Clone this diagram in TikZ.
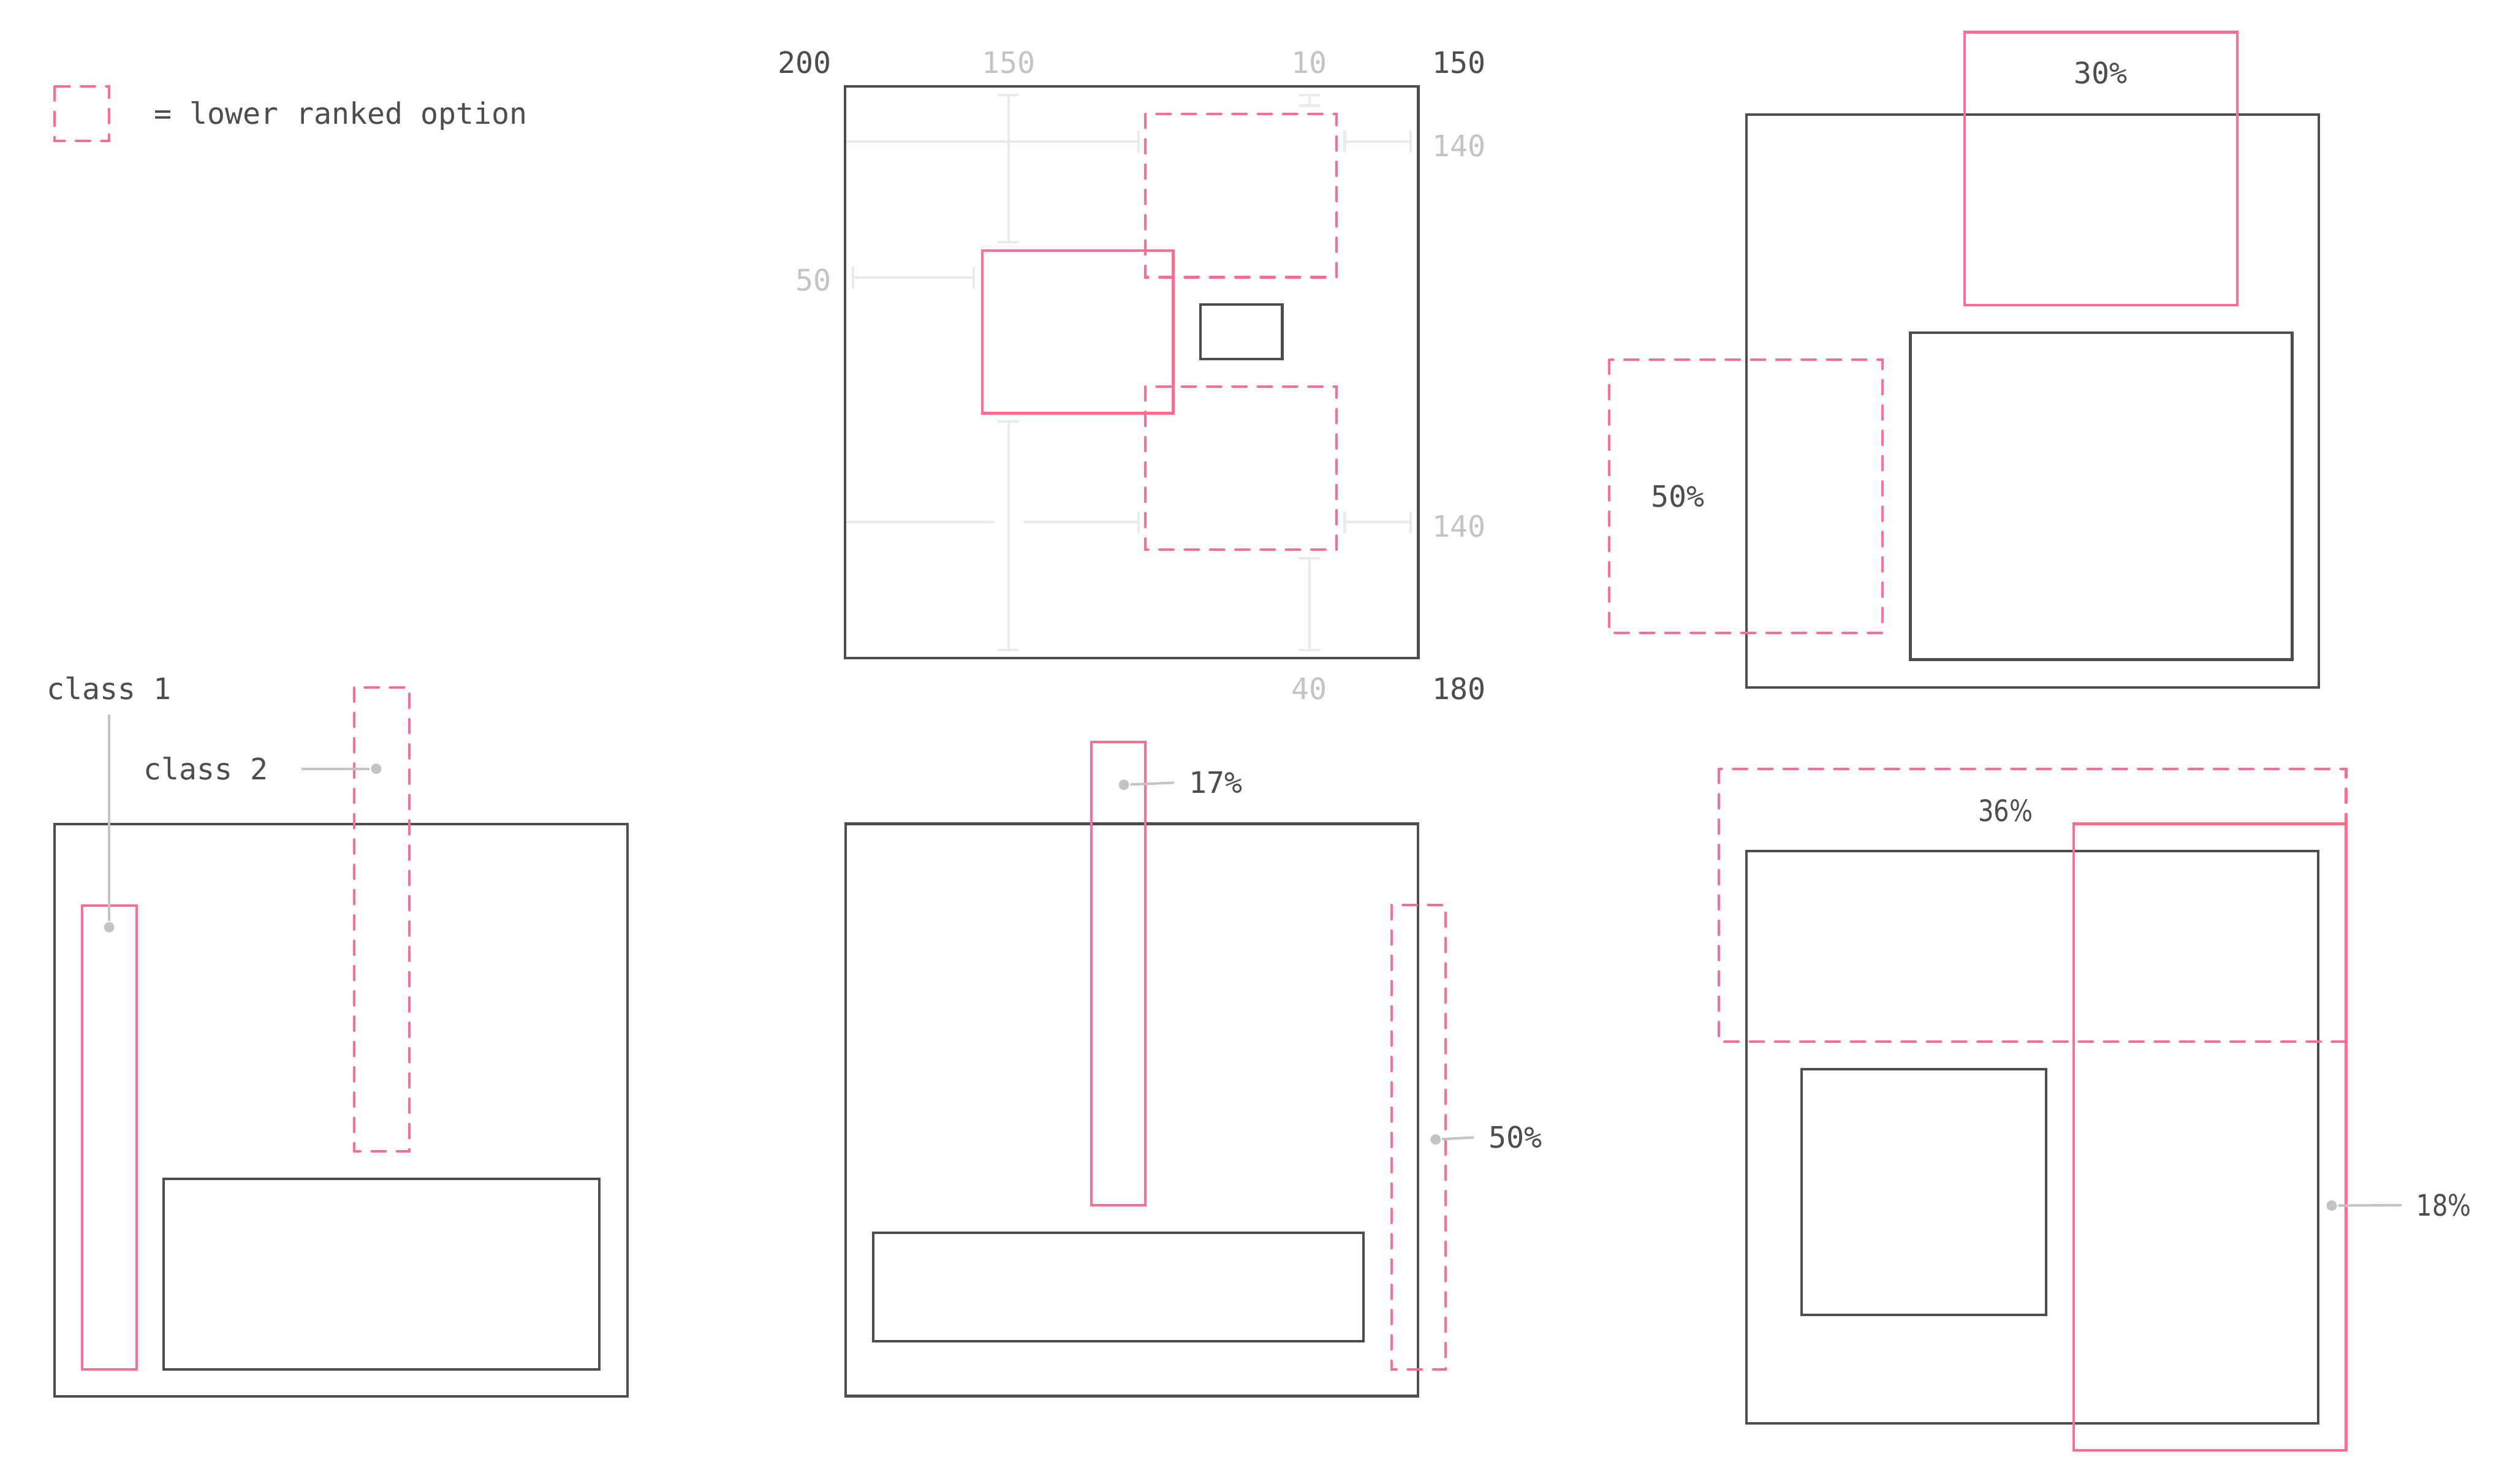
\documentclass[tikz,border=0pt]{standalone}
\usepackage{fontspec}
\setmonofont{DejaVu Sans Mono}
\newfontfamily\pctfont[FakeStretch=0.83]{DejaVu Sans}
\usetikzlibrary{arrows.meta}
\definecolor{cdark}{HTML}{4D4D4D}
\definecolor{cpink}{HTML}{FF6E91}
\definecolor{cgrey}{HTML}{C4C4C4}
\definecolor{clight}{HTML}{EBEBEB}
\tikzset{
  every picture/.style={font=\ttfamily\fontsize{10.5pt}{12pt}\selectfont, line width=0.9pt, x=0.02cm, y=-0.02cm},
  truth/.style={draw=cdark},
  pick/.style={draw=cpink},
  alt/.style={draw=cpink, dash pattern=on 5pt off 4pt, line cap=round},
  dim/.style={draw=clight, {Bar[width=2.7mm]}-{Bar[width=2.7mm]}},
  dimr/.style={draw=clight, -{Bar[width=2.7mm]}},
  lbl/.style={text=cdark},
  glbl/.style={text=cgrey},
  pct/.style={text=cdark, font=\pctfont\fontsize{10.5pt}{12pt}\selectfont},
  dot/.style={circle, fill=cgrey, inner sep=0pt, minimum size=1.3mm},
  lead/.style={draw=cgrey, shorten <=1.5pt},
}

\begin{document}
\begin{tikzpicture}
  \useasboundingbox (0,0) rectangle (1568,927);
  % key
  \draw[alt] (34,54) rectangle (68,88);
  \node[lbl, anchor=base west, inner sep=0pt] (key) at (95.5,77.7) {= lower ranked option};
  % top middle: distances
  \draw[dim] (630,58.6) -- (630,152.1);
  \draw[dim] (630,262.6) -- (630,407);
  \draw[dimr] (528,88.4) -- (711.9,88.4);
  \draw[dim] (839.3,88.4) -- (881.9,88.4);
  \draw[dim] (818,58.6) -- (818,66.8);
  \draw[dim] (532.2,173.5) -- (609.2,173.5);
  \draw[draw=clight] (528,326.3) -- (621.4,326.3);
  \draw[dimr] (639.2,326.3) -- (711.9,326.3);
  \draw[dim] (839.3,326.3) -- (881.9,326.3);
  \draw[dim] (818,347.9) -- (818,407);
  \draw[truth] (528,54) rectangle (886,411);
  \draw[truth] (750,190.4) rectangle (801,224.3);
  \draw[pick] (613.6,156.5) rectangle (732.9,258.2);
  \draw[alt] (715.6,71.2) rectangle (834.9,173.2);
  \draw[alt] (715.6,241.5) rectangle (834.9,343.5);
  \node[lbl] (wl) at (502.8,39.2) {200};
  \node[glbl] (dl) at (630,39.2) {150};
  \node[glbl] (dt) at (818,39.2) {10};
  \node[lbl] (wr) at (911.3,39.2) {150};
  \node[glbl] (dr1) at (911.3,90.9) {140};
  \node[glbl] (dl2) at (508,175.1) {50};
  \node[glbl] (dr2) at (911.3,328.8) {140};
  \node[glbl] (db) at (818,430.4) {40};
  \node[lbl] (hb) at (911.3,430.4) {180};
  % top right
  \draw[truth] (1091,71.5) rectangle (1448.5,429.4);
  \draw[truth] (1193.4,208) rectangle (1431.9,412.1);
  \draw[pick] (1227.3,20.1) rectangle (1397.7,190.7);
  \draw[alt] (1005.3,224.8) rectangle (1176,395.3);
  \node[lbl] (p30) at (1312.1,45.4) {30\%};
  \node[lbl] (p50a) at (1048.3,310.2) {50\%};
  % bottom left
  \draw[truth] (34,514.8) rectangle (392,872.3);
  \draw[truth] (102.2,736.4) rectangle (374.4,855.7);
  \draw[pick] (51.2,565.8) rectangle (85.5,855.7);
  \draw[alt] (221.3,429.6) rectangle (255.6,719.2);
  \node[lbl] (c1) at (68.2,429.9) {class 1};
  \node[lbl] (c2) at (128.7,480.3) {class 2};
  \node[dot] (d1) at (68.2,579.3) {};
  \node[dot] (d2) at (235,480.3) {};
  \draw[lead] (c1.south) -- (d1);
  \draw[lead, shorten <=8pt] (c2.east) -- (d2);
  % bottom middle
  \draw[truth] (528.3,514.7) rectangle (885.9,872.2);
  \draw[truth] (545.6,770.3) rectangle (851.9,838.1);
  \draw[pick] (681.8,463.6) rectangle (715.5,753);
  \draw[alt] (869.2,565.5) rectangle (903.2,855.7);
  \node[lbl, anchor=west] (p17) at (736,488.9) {17\%};
  \node[lbl, anchor=west] (p50b) at (923.3,710.5) {50\%};
  \node[dot] (d17) at (702.1,490.3) {};
  \node[dot] (d50) at (896.8,711.9) {};
  \draw[lead] (p17.west) -- (d17);
  \draw[lead] (p50b.west) -- (d50);
  % bottom right
  \draw[truth] (1090.9,531.7) rectangle (1448.3,889.3);
  \draw[truth] (1125.3,668) rectangle (1278.2,821.4);
  \draw[alt] (1073.7,480.4) rectangle (1465.6,650.8);
  \draw[pick] (1295.4,514.7) rectangle (1465.6,906.2);
  \node[pct] (p36) at (1252.8,506.4) {36\%};
  \node[pct, anchor=west] (p18) at (1503,753) {18\%};
  \node[dot] (d18) at (1456.6,753.2) {};
  \draw[lead] (p18.west) -- (d18);
\end{tikzpicture}
\end{document}
